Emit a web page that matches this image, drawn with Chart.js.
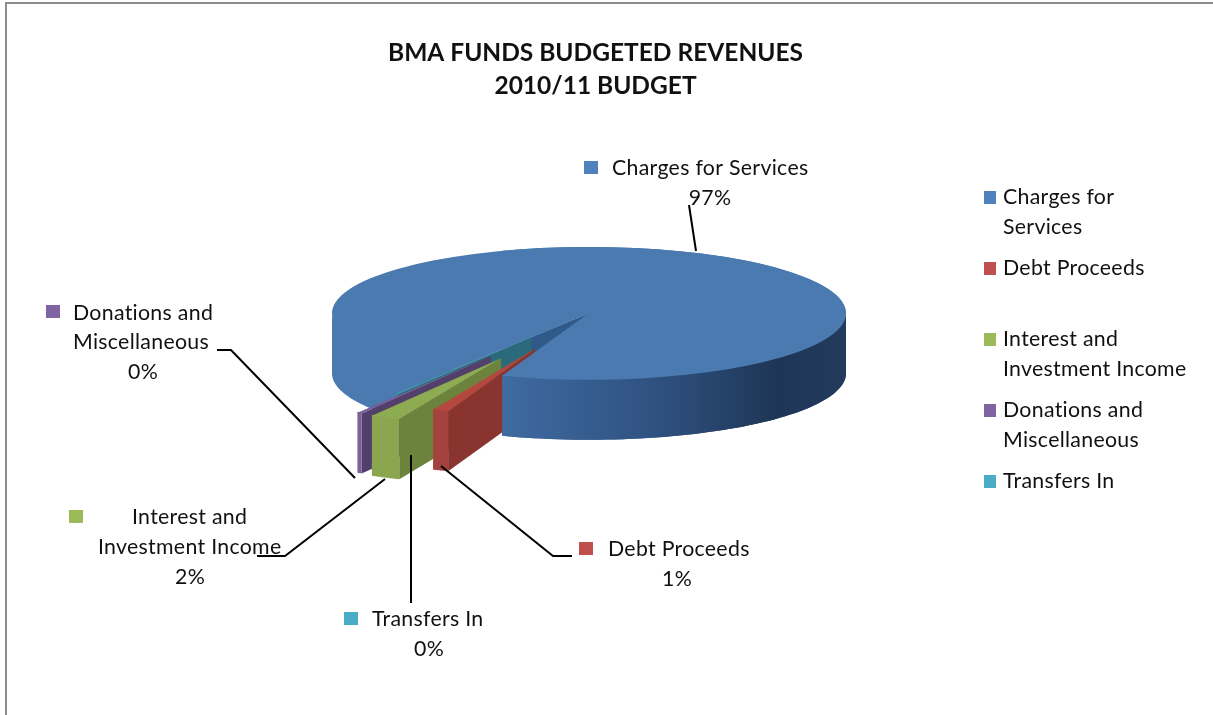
<!DOCTYPE html>
<html>
<head>
<meta charset="utf-8">
<title>BMA Funds Budgeted Revenues</title>
<script src="https://cdn.jsdelivr.net/npm/chart.js@4"></script>
<style>
  html, body { margin: 0; padding: 0; background: #fff; overflow: hidden; }
  #frame { position: absolute; left: 5px; top: 2px; width: 1300px; height: 711px; border: 2px solid #8c8c8c; border-bottom-color: #efefef; }
  #pie { position: absolute; left: 0; top: 0; }
</style>
</head>
<body>
<div id="frame"></div>
<canvas id="pie" width="1191" height="715"></canvas>
<script>
// ----- data -----
const categories = ["Charges for Services", "Debt Proceeds", "Interest and Investment Income", "Donations and Miscellaneous", "Transfers In"];
const budgetShare = [96.6, 1.0, 1.9, 0.3, 0.2];
const titleLines = ["BMA FUNDS BUDGETED REVENUES", "2010/11 BUDGET"];

// ----- style -----
const FONT = "Lato, 'Open Sans', sans-serif";
const TEXT = "#111";
const sliceColors = ["#4a7ab0", "#b5473f", "#8dab50", "#7a5d96", "#3f95a8"];
const keyColors = ["#4f81bd", "#c0504d", "#9bbb59", "#8064a2", "#4bacc6"];
const rimColors = [null, "#a3423e", "#8aa64e", "#7d6096", "#3a8497"];
const cutColors = ["#2f5a8a", "#8a3430", "#6b833c", "#523f6b", "#2b6a7a"];
const explodePx = [0, 147, 195, 192, 110];
const paintOrder = [4, 3, 2, 1];
const TILT = 0.2585, DEPTH = 60, RADIUS = 257, PIE_NUDGE_X = -6.5;

// legend rows: [key index or -1, text line, y]
const legendRows = [[0, "Charges for", 197], [-1, "Services", 227], [1, "Debt Proceeds", 268], [2, "Interest and", 339], [-1, "Investment Income", 369], [3, "Donations and", 410], [-1, "Miscellaneous", 440], [4, "Transfers In", 481]];
// callouts: key box, text lines, percent position, leader polyline
const callouts = [
  { i: 0, box: [584, 161], lines: [["Charges for Services", 612, 168]], pct: [710, 198], leader: [[689, 205], [696, 251]] },
  { i: 1, box: [579, 542], lines: [["Debt Proceeds", 608, 549]], pct: [677, 579], leader: [[441, 466], [553, 556], [572, 556]] },
  { i: 2, box: [69, 510], lines: [["Interest and", 132, 517], ["Investment Income", 98, 547]], pct: [190, 577], leader: [[257, 556], [285, 556], [385, 479]] },
  { i: 3, box: [46, 305], lines: [["Donations and", 73, 313], ["Miscellaneous", 73, 342]], pct: [143, 372], leader: [[217, 350], [231, 350], [355, 478]] },
  { i: 4, box: [344, 612], lines: [["Transfers In", 372, 619]], pct: [429, 649], leader: [[411, 603], [411, 455]] }
];

// ----- tilted pie controller -----
class Pie3dController extends Chart.PieController {
  draw() {
    const ctx = this.chart.ctx, arcs = this._cachedMeta.data;
    const shift = (i) => {
      const mid = (arcs[i].startAngle + arcs[i].endAngle) / 2;
      return { x: Math.cos(mid) * explodePx[i], y: Math.sin(mid) * explodePx[i] };
    };
    const rimPt = (arc, s, a) => [arc.x + s.x + Math.cos(a) * RADIUS, arc.y + (s.y + Math.sin(a) * RADIUS) * TILT];
    const top = (i) => {
      const arc = arcs[i], s = shift(i);
      ctx.save();
      ctx.translate(arc.x, arc.y); ctx.scale(1, TILT); ctx.translate(-arc.x + s.x, -arc.y + s.y);
      arc.draw(ctx);
      ctx.restore();
    };
    const rim = (i, a0, a1, fill) => {
      const arc = arcs[i], s = shift(i), pts = [];
      for (let k = 0; k <= 60; k++) pts.push(rimPt(arc, s, a0 + (a1 - a0) * k / 60));
      ctx.beginPath();
      // upper edge starts 1px high so no seam shows under the top face
      pts.forEach((p, k) => k ? ctx.lineTo(p[0], p[1] - 1) : ctx.moveTo(p[0], p[1] - 1));
      pts.reverse().forEach((p) => ctx.lineTo(p[0], p[1] + DEPTH));
      ctx.closePath(); ctx.fillStyle = fill; ctx.fill();
    };
    const cut = (i) => {
      const arc = arcs[i], s = shift(i), p = rimPt(arc, s, arc.startAngle);
      const tx = arc.x + s.x, ty = arc.y + s.y * TILT;
      ctx.beginPath();
      ctx.moveTo(tx, ty); ctx.lineTo(p[0], p[1]); ctx.lineTo(p[0], p[1] + DEPTH); ctx.lineTo(tx, ty + DEPTH);
      ctx.closePath(); ctx.fillStyle = cutColors[i]; ctx.fill();
    };

    ctx.save();
    ctx.translate(PIE_NUDGE_X, 0);
    const blue = arcs[0], rimEnd = rimPt(blue, { x: 0, y: 0 }, blue.endAngle), rimStart = rimPt(blue, { x: 0, y: 0 }, blue.startAngle);
    const rightWall = ctx.createLinearGradient(rimEnd[0], 0, blue.x + RADIUS, 0);
    rightWall.addColorStop(0, "#3f6ba1");
    rightWall.addColorStop(0.45, "#2f5180");
    rightWall.addColorStop(0.8, "#1e3656");
    rightWall.addColorStop(1, "#223b5d");

    // back to front: the main slice first, then the exploded ones, then the main slice's front again
    rim(0, blue.startAngle, Math.PI, sliceColors[0]);
    ctx.beginPath();
    ctx.moveTo(blue.x, blue.y); ctx.lineTo(rimStart[0], rimStart[1]); ctx.lineTo(rimStart[0], rimStart[1] + DEPTH); ctx.lineTo(blue.x, blue.y + DEPTH);
    ctx.closePath(); ctx.fillStyle = cutColors[0]; ctx.fill();
    rim(0, 2 * Math.PI, blue.endAngle, rightWall);
    top(0);
    paintOrder.forEach((i) => {
      cut(i);
      rim(i, arcs[i].startAngle, arcs[i].endAngle, rimColors[i]);
      top(i);
    });
    ctx.save();
    ctx.beginPath(); ctx.rect(rimEnd[0], 0, this.chart.width, this.chart.height); ctx.clip();
    rim(0, 2 * Math.PI, blue.endAngle, rightWall);
    top(0);
    ctx.restore();
    ctx.restore();
  }
}
Pie3dController.id = "pie3d";
Chart.register(Pie3dController);

// ----- legend and data labels -----
const textPlugin = {
  id: "pieText",
  afterDraw(chart) {
    const ctx = chart.ctx;
    ctx.save();
    ctx.textBaseline = "middle";
    ctx.font = `21.3px ${FONT}`;
    ctx.letterSpacing = "0.3px";
    ctx.textAlign = "left";
    legendRows.forEach(([k, line, y]) => {
      if (k >= 0) { ctx.fillStyle = keyColors[k]; ctx.fillRect(984, y - 6, 12, 13); }
      ctx.fillStyle = TEXT; ctx.fillText(line, 1003, y);
    });
    callouts.forEach((c) => {
      ctx.fillStyle = keyColors[c.i]; ctx.fillRect(c.box[0], c.box[1], 14, 13);
      ctx.fillStyle = TEXT; ctx.textAlign = "left";
      c.lines.forEach(([t, x, y]) => ctx.fillText(t, x, y));
      ctx.textAlign = "center";
      ctx.fillText(`${Math.round(budgetShare[c.i])}%`, c.pct[0], c.pct[1]);
      ctx.beginPath();
      c.leader.forEach((p, k) => k ? ctx.lineTo(p[0], p[1]) : ctx.moveTo(p[0], p[1]));
      ctx.strokeStyle = "#000"; ctx.lineWidth = 2; ctx.stroke();
    });
    ctx.restore();
  }
};

new Chart(document.getElementById("pie"), {
  type: "pie3d",
  data: {
    labels: categories,
    datasets: [{ data: budgetShare, backgroundColor: sliceColors, borderWidth: 0 }]
  },
  options: {
    responsive: false, animation: false, maintainAspectRatio: false,
    rotation: 212, radius: RADIUS,
    layout: { padding: { bottom: 191 } },
    events: [],
    plugins: {
      legend: { display: false },
      tooltip: { enabled: false },
      title: {
        display: true, text: titleLines, color: TEXT,
        font: { family: FONT, size: 24.5, weight: "bold", lineHeight: 1.36 },
        padding: { top: 36, bottom: 0 }
      }
    }
  },
  plugins: [textPlugin]
});
</script>
</body>
</html>
